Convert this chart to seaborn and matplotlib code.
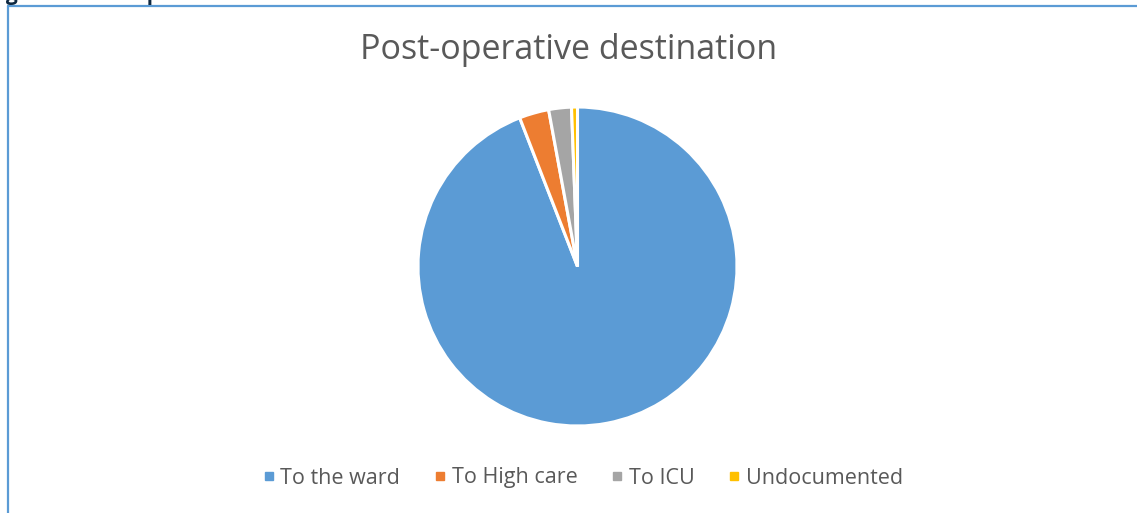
import matplotlib
matplotlib.use("Agg")
import matplotlib.pyplot as plt
from matplotlib.lines import Line2D
import seaborn as sns

categories = ["To the ward", "To High care", "To ICU", "Undocumented"]
values = [94.1, 3.0, 2.3, 0.6]
colors = ["#5b9bd5", "#ed7d31", "#a5a5a5", "#ffc000"]

sns.set_theme(style="white")
plt.rcParams['font.family'] = ['Open Sans', 'DejaVu Sans']

W, H = 1137, 513
fig = plt.figure(figsize=(W / 100, H / 100), dpi=100)
fig.patch.set_facecolor("white")

cx, cy, r = 577.5, 266.5, 159.5
ax = fig.add_axes([(cx - r) / W, (H - cy - r) / H, 2 * r / W, 2 * r / H])
ax.pie(values, colors=colors, startangle=90, counterclock=False,
       wedgeprops=dict(edgecolor="white", linewidth=2.2))
ax.set_xlim(-1, 1)
ax.set_ylim(-1, 1)
ax.set_aspect("equal")
ax.axis("off")

fig.text(568.5 / W, 1 - 50 / H, "Post-operative destination", ha="center", va="center",
         fontsize=24.5, color="#595959")

# Caption cut off at the very top (only its descenders show)
fig.text(-12 / W, 1.0, "Figure 9: Post-operative destination", ha="left",
         va="baseline", fontsize=15, fontweight="bold", color="#0e2841")

handles = [Line2D([0], [0], marker="s", linestyle="none", markersize=6,
                  markerfacecolor=c, markeredgecolor=c) for c in colors]
fig.legend(handles, categories, loc="center", bbox_to_anchor=(583.5 / W, 1 - 478 / H),
           ncol=4, frameon=False, fontsize=15.5, labelcolor="#595959",
           handlelength=0.4, handletextpad=0.35, columnspacing=1.63)

# Frame lines
fig.add_artist(Line2D([7.5 / W, 1], [1 - 5.5 / H, 1 - 5.5 / H], color="#5b9bd5",
                      linewidth=1.6, transform=fig.transFigure))
fig.add_artist(Line2D([7.5 / W, 7.5 / W], [0, 1 - 5.5 / H], color="#5b9bd5",
                      linewidth=1.6, transform=fig.transFigure))

fig.savefig("out.png", dpi=100, facecolor="white")
